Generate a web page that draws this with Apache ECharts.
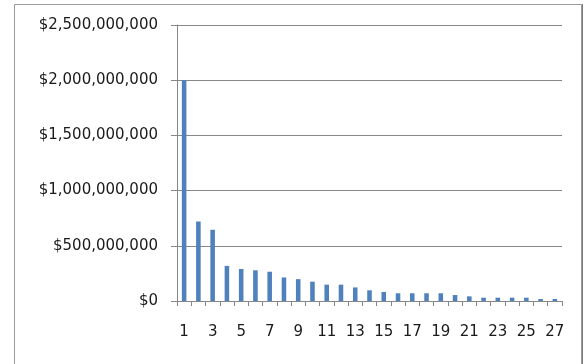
<!DOCTYPE html>
<html>
<head>
<meta charset="utf-8">
<script src="https://cdn.jsdelivr.net/npm/echarts@6/dist/echarts.min.js"></script>
<style>
  html, body { margin: 0; padding: 0; background: #ffffff; }
  #chart { width: 584px; height: 364px; }
</style>
</head>
<body>
<div id="chart"></div>
<script>
// Rank positions along the category axis
const categories = ['1','2','3','4','5','6','7','8','9','10','11','12','13','14','15','16','17','18','19','20','21','22','23','24','25','26','27'];

// Dollar amount for each rank
const values = [
  2000000000, 720000000, 645000000, 318000000, 290000000, 278000000, 265000000,
  213000000, 198000000, 175000000, 148000000, 148000000, 123000000, 97000000,
  82000000, 70000000, 70000000, 70000000, 70000000, 54000000, 42000000,
  30000000, 30000000, 30000000, 30000000, 18000000, 18000000
];

// Value axis ticks
const yTicks = [0, 500000000, 1000000000, 1500000000, 2000000000, 2500000000];

const fmtDollar = v => '$' + Math.round(v).toString().replace(/\B(?=(\d{3})+(?!\d))/g, ',');

const chart = echarts.init(document.getElementById('chart'), null, { renderer: 'canvas' });

const lineColor = '#878787';
const labelFont = { fontFamily: 'DejaVu Sans', fontSize: 15, color: '#1a1a1a' };

chart.setOption({
  animation: false,
  backgroundColor: '#ffffff',
  graphic: [
    {
      type: 'rect',
      shape: { x: 14.5, y: 4.5, width: 567, height: 380 },
      style: { fill: 'none', stroke: '#9a9a9a', lineWidth: 1 },
      silent: true
    },
    {
      type: 'line',
      shape: { x1: 582.5, y1: 4, x2: 582.5, y2: 364 },
      style: { stroke: '#7a7a7a', lineWidth: 1 },
      silent: true
    }
  ],
  grid: { left: 177, right: 22, top: 25, bottom: 63, containLabel: false },
  xAxis: {
    type: 'category',
    data: categories,
    boundaryGap: true,
    axisLine: { show: true, lineStyle: { color: lineColor, width: 1 } },
    axisTick: { show: true, alignWithLabel: false, interval: 0, length: 5, lineStyle: { color: lineColor } },
    axisLabel: Object.assign({ interval: 1, margin: 24 }, labelFont),
    splitLine: { show: false }
  },
  yAxis: {
    type: 'value',
    min: yTicks[0],
    max: yTicks[yTicks.length - 1],
    interval: yTicks[1] - yTicks[0],
    axisLine: { show: true, lineStyle: { color: lineColor, width: 1 } },
    axisTick: { show: true, inside: false, length: 6, lineStyle: { color: lineColor } },
    axisLabel: Object.assign({ margin: 19, formatter: fmtDollar }, labelFont),
    splitLine: { show: true, lineStyle: { color: lineColor, width: 1 } }
  },
  series: [
    {
      type: 'bar',
      data: values,
      barWidth: '32%',
      itemStyle: { color: '#4f81bd' }
    }
  ]
});
</script>
</body>
</html>
